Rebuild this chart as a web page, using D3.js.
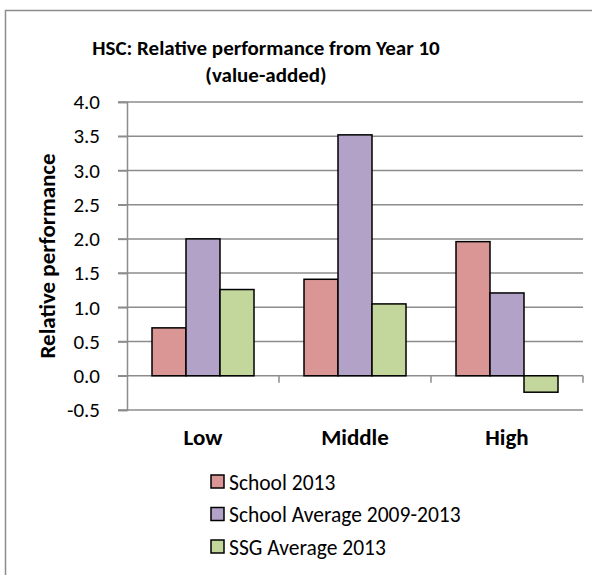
<!DOCTYPE html>
<html lang="en">
<head>
<meta charset="utf-8">
<style>
  body { margin: 0; background: #fff; }
  svg { display: block; font-family: Carlito, Lato, sans-serif; }
</style>
</head>
<body>
<svg width="597" height="575"></svg>
<script src="https://cdn.jsdelivr.net/npm/d3@7"></script>
<script>
// data
var categories = ['Low', 'Middle', 'High']
var seriesNames = ['School 2013', 'School Average 2009-2013', 'SSG Average 2013']
var school2013 = [0.70, 1.41, 1.96]
var schoolAvg = [2.0, 3.52, 1.21]
var ssgAvg = [1.26, 1.05, -0.24]
var yTicks = [-0.5, 0, 0.5, 1, 1.5, 2, 2.5, 3, 3.5, 4]
var colors = ['#D99694', '#B3A2C7', '#C3D69B']

var seriesValues = [school2013, schoolAvg, ssgAvg]

var svg = d3.select('svg')

// chart frame (right/bottom edges fall outside the picture)
svg.append('path')
  .attr('d', 'M5.5,600V10.5H592')
  .attr('fill', 'none')
  .attr('stroke', '#8c8c8c')
  .attr('stroke-width', 1.5)

var plot = { left: 127, right: 583, top: 102, bottom: 410 }

var x0 = d3.scaleBand().domain(categories).range([plot.left, plot.right])
var x1 = d3.scaleBand().domain(d3.range(3)).range([25, x0.bandwidth() - 25])
var y = d3.scaleLinear().domain([-0.5, 4]).range([plot.bottom, plot.top])

// title
var title = svg.append('text')
  .attr('text-anchor', 'middle')
  .attr('font-weight', 'bold')
  .attr('font-size', 21)
  .attr('fill', '#000')
title.append('tspan').attr('x', 266).attr('y', 55).text('HSC: Relative performance from Year 10')
title.append('tspan').attr('x', 266).attr('y', 82).text('(value-added)')

// gridlines
svg.append('g')
  .selectAll('line')
  .data(yTicks)
  .join('line')
    .attr('x1', plot.left - 9).attr('x2', plot.right)
    .attr('y1', function (d) { return y(d) }).attr('y2', function (d) { return y(d) })
    .attr('stroke', '#8c8c8c')
    .attr('stroke-width', 1.5)

// y axis
var yAxis = svg.append('g')
  .attr('transform', 'translate(' + plot.left + ',0)')
  .call(d3.axisLeft(y).tickValues(yTicks).tickSize(9).tickFormat(d3.format('.1f')))
yAxis.select('.domain').attr('stroke', '#8c8c8c').attr('stroke-width', 1.5)
yAxis.selectAll('.tick line').attr('stroke', '#8c8c8c').attr('stroke-width', 1.5)
yAxis.selectAll('.tick text')
  .attr('x', -27)
  .attr('font-size', 21)
  .attr('font-family', 'Carlito, Lato, sans-serif')
  .attr('fill', '#000')
  .text(function (d) { return d3.format('.1f')(d).replace('−', '-') })

svg.append('text')
  .attr('transform', 'translate(55,256) rotate(-90)')
  .attr('text-anchor', 'middle')
  .attr('font-weight', 'bold')
  .attr('font-size', 23)
  .text('Relative performance')

// category tick marks on zero line
svg.append('g')
  .selectAll('line')
  .data(categories)
  .join('line')
    .attr('x1', function (d) { return x0(d) + x0.bandwidth() }).attr('x2', function (d) { return x0(d) + x0.bandwidth() })
    .attr('y1', y(0)).attr('y2', y(0) + 7)
    .attr('stroke', '#8c8c8c')
    .attr('stroke-width', 1.5)

// bars
var groups = svg.append('g')
  .selectAll('g')
  .data(categories)
  .join('g')
    .attr('transform', function (d) { return 'translate(' + x0(d) + ',0)' })

groups.selectAll('rect')
  .data(function (d, ci) { return seriesValues.map(function (vals, si) { return { s: si, v: vals[ci] } }) })
  .join('rect')
    .attr('x', function (d) { return x1(d.s) })
    .attr('width', x1.bandwidth())
    .attr('y', function (d) { return y(Math.max(0, d.v)) })
    .attr('height', function (d) { return Math.abs(y(d.v) - y(0)) })
    .attr('fill', function (d) { return colors[d.s] })
    .attr('stroke', '#000')
    .attr('stroke-width', 1.5)

// category labels
svg.append('g')
  .selectAll('text')
  .data(categories)
  .join('text')
    .attr('x', function (d) { return x0(d) + x0.bandwidth() / 2 })
    .attr('y', 445)
    .attr('text-anchor', 'middle')
    .attr('font-weight', 'bold')
    .attr('font-size', 23)
    .text(function (d) { return d })

// legend
var legend = svg.append('g')
  .selectAll('g')
  .data(seriesNames)
  .join('g')
    .attr('transform', function (d, i) { return 'translate(211,' + (475 + i * 32.5) + ')' })

legend.append('rect')
  .attr('width', 13).attr('height', 13)
  .attr('fill', function (d, i) { return colors[i] })
  .attr('stroke', '#000')
  .attr('stroke-width', 1.5)

legend.append('text')
  .attr('x', 18)
  .attr('y', 7)
  .attr('dy', '0.35em')
  .attr('font-size', 21.5)
  .text(function (d) { return d })
</script>
</body>
</html>
